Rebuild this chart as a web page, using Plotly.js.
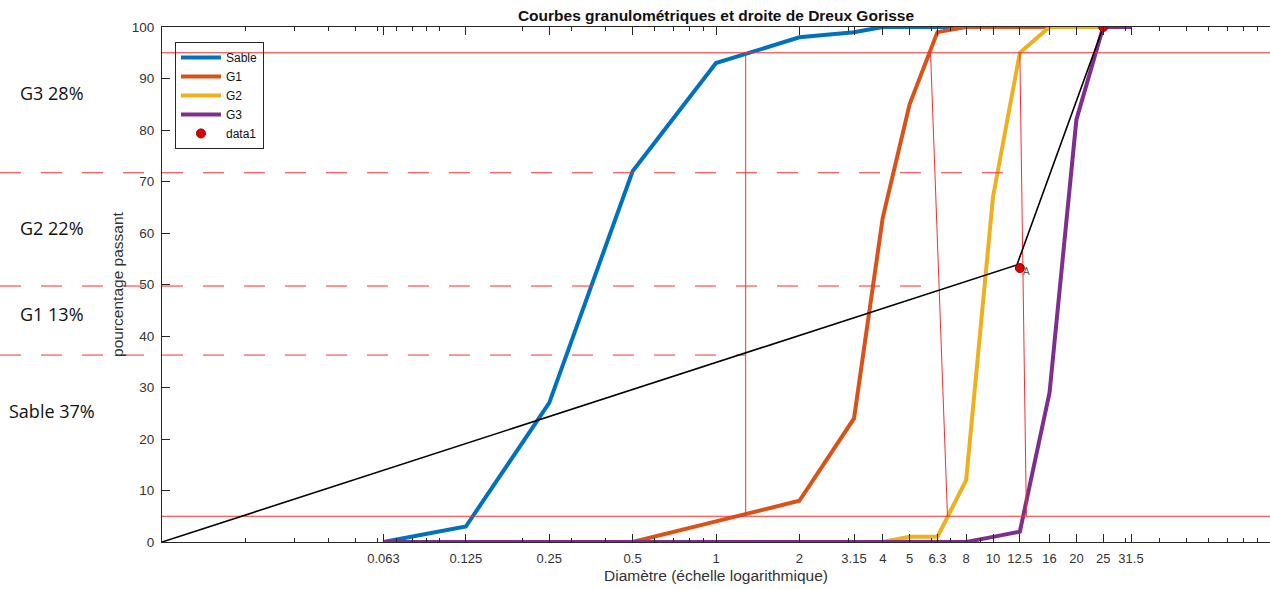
<!DOCTYPE html>
<html>
<head>
<meta charset="utf-8">
<script src="https://cdn.plot.ly/plotly-3.0.1.min.js"></script>
<style>html,body{margin:0;padding:0;background:#fff;}#chart{width:1270px;height:589px;}</style>
</head>
<body>
<div id="chart"></div>
<script>
// ---- data ----
var diam  = [0.063, 0.125, 0.25, 0.5, 1, 2, 3.15, 4, 5, 6.3, 8, 10, 12.5, 16, 20, 25, 31.5];
var sable = [0, 3, 27, 72, 93, 98, 99, 100, 100, 100, 100, 100, 100, 100, 100, 100, 100];
var g1    = [0, 0, 0, 0, 4, 8, 24, 63, 85, 99, 100, 100, 100, 100, 100, 100, 100];
var g2    = [0, 0, 0, 0, 0, 0, 0, 0, 1, 1, 12, 67, 95, 100, 100, 100, 100];
var g3    = [0, 0, 0, 0, 0, 0, 0, 0, 0, 0, 0, 1, 2, 29, 82, 100, 100];

var tickLabels = ["0.063","0.125","0.25","0.5","1","2","3.15","4","5","6.3","8","10","12.5","16","20","25","31.5"];
var minorTicks = [0.01,0.02,0.03,0.04,0.05,0.06,0.07,0.08,0.09,0.1,0.2,0.3,0.4,0.5,0.6,0.7,0.8,0.9,1,2,3,4,5,6,7,8,9,10,20,30,40,50,60,70,80,90,100];

// Dreux-Gorisse line and points
var dgX = [0.01, 12.2, 25];
var dgY = [0, 53.8, 100];
var ptX = [12.5, 25];
var ptY = [53.2, 100];

// red construction lines
var limHigh = 95, limLow = 5;
var v1X = [1.28, 1.28],  v1Y = [5, 95];
var v2X = [5.95, 6.85],  v2Y = [95, 5];
var v3X = [12.5, 13.2],  v3Y = [95, 5];

// dashed separation levels and their end diameters
var sepLevels = [71.7, 49.7, 36.3];
var sepEnds   = [12.2, 6.2, 1.28];

// fractions
var fracLabels = ["G3 28%", "G2 22%", "G1 13%", "Sable 37%"];
var fracY      = [87.2, 61, 44.2, 25.4];

var xMin = 0.01, xMax = 100;

var C = {blue:'#0072BD', orange:'#D95319', yellow:'#EDB120', purple:'#7E2F8E'};
var red = '#ee3333';
var axisColor = '#262626';
var font = 'Liberation Sans, Arial, Helvetica, sans-serif';

var traces = [
  {x: diam, y: sable, name: 'Sable', mode: 'lines', line: {color: C.blue, width: 4}},
  {x: diam, y: g1, name: 'G1', mode: 'lines', line: {color: C.orange, width: 4}},
  {x: diam, y: g2, name: 'G2', mode: 'lines', line: {color: C.yellow, width: 4}},
  {x: diam, y: g3, name: 'G3', mode: 'lines', line: {color: C.purple, width: 4}}
];

function guide(x, y, dash) {
  return {x: x, y: y, mode: 'lines', showlegend: false, hoverinfo: 'skip',
          line: {color: red, width: 1, dash: dash || 'solid'}};
}
traces.push(guide([xMin, xMax], [limHigh, limHigh]));
traces.push(guide([xMin, xMax], [limLow, limLow]));
traces.push(guide(v1X, v1Y));
traces.push(guide(v2X, v2Y));
traces.push(guide(v3X, v3Y));
for (var i = 0; i < sepLevels.length; i++) {
  traces.push(guide([xMin, sepEnds[i]], [sepLevels[i], sepLevels[i]], '21px,20px'));
}
traces.push({x: dgX, y: dgY, mode: 'lines', showlegend: false, hoverinfo: 'skip',
             line: {color: '#000', width: 1.6}});
traces.push({x: ptX, y: ptY, name: 'data1', mode: 'markers',
             marker: {color: '#e00000', size: 9, line: {color: '#8a0000', width: 1}}});

// dashed parts in the left margin
var plotLeft = 162, plotW = 1270 - 162;
var shapes = sepLevels.map(function (v) {
  return {type: 'line', xref: 'paper', yref: 'y', x0: -plotLeft / plotW, x1: 0, y0: v, y1: v,
          line: {color: red, width: 1, dash: '21px,20px'}, layer: 'above'};
});

var annotations = fracLabels.map(function (t, i) {
  return {text: t, xref: 'paper', yref: 'y', x: -0.099, y: fracY[i], xanchor: 'center', yanchor: 'middle',
          showarrow: false, font: {family: 'Open Sans, Noto Sans, sans-serif', size: 18, color: '#111'}};
});
annotations.push({text: 'A', xref: 'x', yref: 'y', x: Math.log10(ptX[0]), y: ptY[0], xshift: 7, yshift: -3,
                  showarrow: false, font: {family: font, size: 10, color: '#555'}});

var layout = {
  width: 1270, height: 589,
  margin: {l: 162, r: 0, t: 27, b: 47, pad: 0},
  paper_bgcolor: '#fff', plot_bgcolor: '#fff',
  font: {family: font, size: 13, color: axisColor},
  title: {text: '<b>Courbes granulométriques et droite de Dreux Gorisse</b>',
          font: {family: font, size: 15.5, color: '#111'},
          x: 0.5, xref: 'paper', xanchor: 'center', y: 0.974, yref: 'container', yanchor: 'middle'},
  xaxis: {type: 'log', range: [Math.log10(xMin), Math.log10(xMax)],
          tickmode: 'array', tickvals: diam, ticktext: tickLabels,
          ticks: 'inside', ticklen: 8, tickwidth: 1, tickcolor: axisColor,
          minor: {tickmode: 'array', tickvals: minorTicks, ticks: 'inside', ticklen: 4, tickwidth: 1, tickcolor: axisColor, showgrid: false},
          showline: true, linecolor: axisColor, linewidth: 1, mirror: 'ticks',
          showgrid: false, zeroline: false, ticklabelstandoff: 4,
          tickfont: {family: font, size: 13, color: '#333'},
          title: {text: 'Diamètre (échelle logarithmique)', font: {family: font, size: 15.5, color: '#333'}, standoff: 5}},
  yaxis: {range: [0, 100], tickmode: 'linear', tick0: 0, dtick: 10,
          ticks: 'inside', ticklen: 8, tickwidth: 1, tickcolor: axisColor,
          showline: true, linecolor: axisColor, linewidth: 1, mirror: false,
          showgrid: false, zeroline: false, ticklabelstandoff: 4,
          tickfont: {family: font, size: 13.5, color: '#333'},
          title: {text: 'pourcentage passant', font: {family: font, size: 15.5, color: '#333'}, standoff: 4}},
  legend: {x: 0.0117, y: 0.971, xanchor: 'left', yanchor: 'top',
           bgcolor: 'rgba(255,255,255,0)', bordercolor: axisColor, borderwidth: 1,
           font: {family: font, size: 12, color: '#111'}, tracegroupgap: 0, itemwidth: 40},
  shapes: shapes,
  annotations: annotations,
  showlegend: true
};

Plotly.newPlot('chart', traces, layout, {staticPlot: true, displayModeBar: false});
</script>
</body>
</html>
